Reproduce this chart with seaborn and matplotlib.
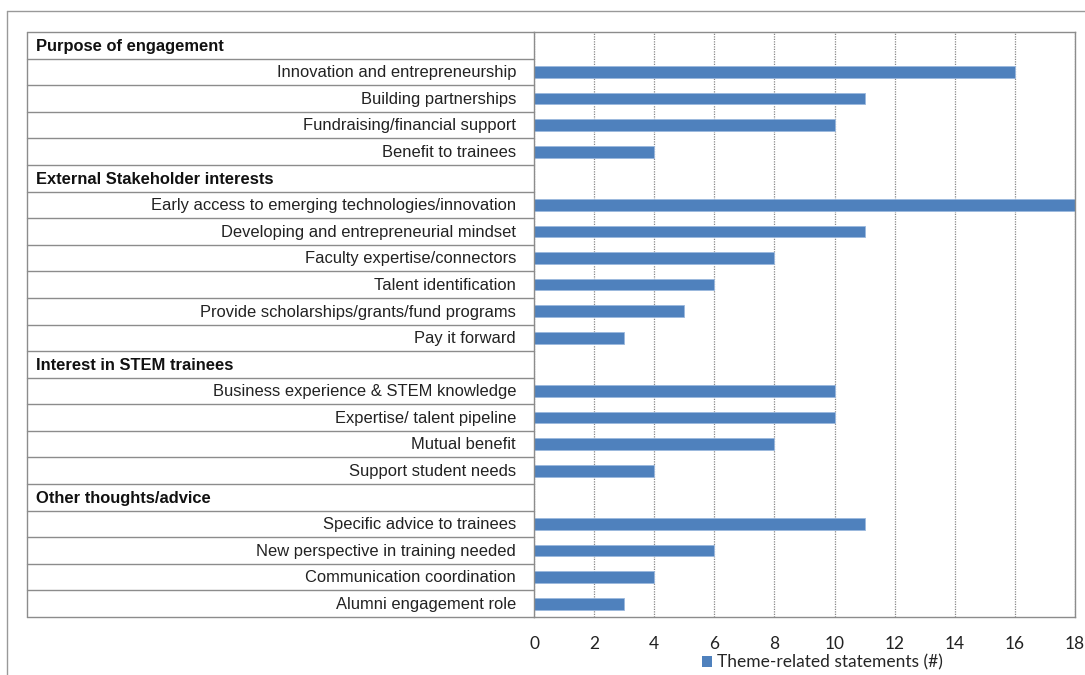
import matplotlib
matplotlib.use("Agg")
import matplotlib.pyplot as plt
from matplotlib.lines import Line2D
from matplotlib.patches import Patch
import matplotlib.transforms as mtransforms
import seaborn as sns
import pandas as pd

# Themes grouped by section, with the number of theme-related statements
sections = [
    "Purpose of engagement",
    "External Stakeholder interests",
    "Interest in STEM trainees",
    "Other thoughts/advice",
]
purpose_items = ["Innovation and entrepreneurship", "Building partnerships",
                 "Fundraising/financial support", "Benefit to trainees"]
purpose_counts = [16, 11, 10, 4]
stakeholder_items = ["Early access to emerging technologies/innovation",
                     "Developing and entrepreneurial mindset",
                     "Faculty expertise/connectors", "Talent identification",
                     "Provide scholarships/grants/fund programs", "Pay it forward"]
stakeholder_counts = [18, 11, 8, 6, 5, 3]
stem_items = ["Business experience & STEM knowledge", "Expertise/ talent pipeline",
              "Mutual benefit", "Support student needs"]
stem_counts = [10, 10, 8, 4]
advice_items = ["Specific advice to trainees", "New perspective in training needed",
                "Communication coordination", "Alumni engagement role"]
advice_counts = [11, 6, 4, 3]
x_ticks = [0, 2, 4, 6, 8, 10, 12, 14, 16, 18]
legend_label = "Theme-related statements (#)"

groups = [(sections[0], purpose_items, purpose_counts),
          (sections[1], stakeholder_items, stakeholder_counts),
          (sections[2], stem_items, stem_counts),
          (sections[3], advice_items, advice_counts)]

order, names, values = [], [], []
for head, items, counts in groups:
    order.append(head)
    order.extend(items)
    names.extend(items)
    values.extend(counts)
df = pd.DataFrame({"theme": names, "count": values})

sns.set_style("white")
plt.rcParams["font.family"] = ["Liberation Sans", "DejaVu Sans"]

BAR = "#4F81BD"
EDGE = "#8c8c8c"

fig = plt.figure(figsize=(10.85, 6.75), dpi=100)
ax = fig.add_axes([0.4922, 0.0859, 0.4986, 0.8667])

sns.barplot(data=df, y="theme", x="count", order=order, orient="h",
            color=BAR, width=0.44, saturation=1, ax=ax, errorbar=None,
            edgecolor="#9bb8dd", linewidth=0.6)

ax.set_xlim(0, 18)
ax.set_ylim(len(order) - 0.5, -0.5)
ax.set_xticks(x_ticks)
ax.set_xticklabels([str(t) for t in x_ticks], fontfamily="Lato", fontsize=12.5,
                   color="#222222")
ax.set_yticks([])
ax.set_xlabel("")
ax.set_ylabel("")
ax.tick_params(axis="x", direction="out", length=5, width=1, color=EDGE, pad=9)
ax.grid(axis="x", linestyle=(0, (1, 1)), color="#888888", linewidth=0.9)
ax.set_axisbelow(True)
for s in ax.spines.values():
    s.set_visible(True)
    s.set_color(EDGE)
    s.set_linewidth(1.0)

# Label table to the left of the bars
trans = mtransforms.blended_transform_factory(ax.transAxes, ax.transData)
table_left = (27 - 534) / 541.0
for b in range(len(order) + 1):
    yb = b - 0.5
    ax.add_line(Line2D([table_left, 0], [yb, yb], transform=trans,
                       color=EDGE, lw=1.0, clip_on=False))
ax.add_line(Line2D([table_left, table_left], [-0.5, len(order) - 0.5],
                   transform=trans, color=EDGE, lw=1.0, clip_on=False))

for i, label in enumerate(order):
    if label in sections:
        ax.text(table_left + 9 / 541.0, i + 0.03, label, transform=trans,
                ha="left", va="center", fontsize=11.9, fontweight="bold",
                color="#111111", clip_on=False)
    else:
        ax.text(-18 / 541.0, i + 0.03, label, transform=trans, ha="right",
                va="center", fontsize=11.9, color="#222222", clip_on=False)

# Legend below the axis
handle = Patch(facecolor=BAR, edgecolor="none")
fig.legend([handle], [legend_label], loc="center", bbox_to_anchor=(0.758, 0.018),
           frameon=False, prop={"family": "Lato", "size": 12.5},
           handlelength=0.6, handleheight=0.6, handletextpad=0.3)

# Outer frame of the figure
fig.add_artist(Line2D([7 / 1085, 1.0], [1 - 11 / 675, 1 - 11 / 675],
                      transform=fig.transFigure, color="#999999", lw=1.0))
fig.add_artist(Line2D([7 / 1085, 7 / 1085], [0, 1 - 11 / 675],
                      transform=fig.transFigure, color="#999999", lw=1.0))

fig.savefig("out.png", dpi=100)
